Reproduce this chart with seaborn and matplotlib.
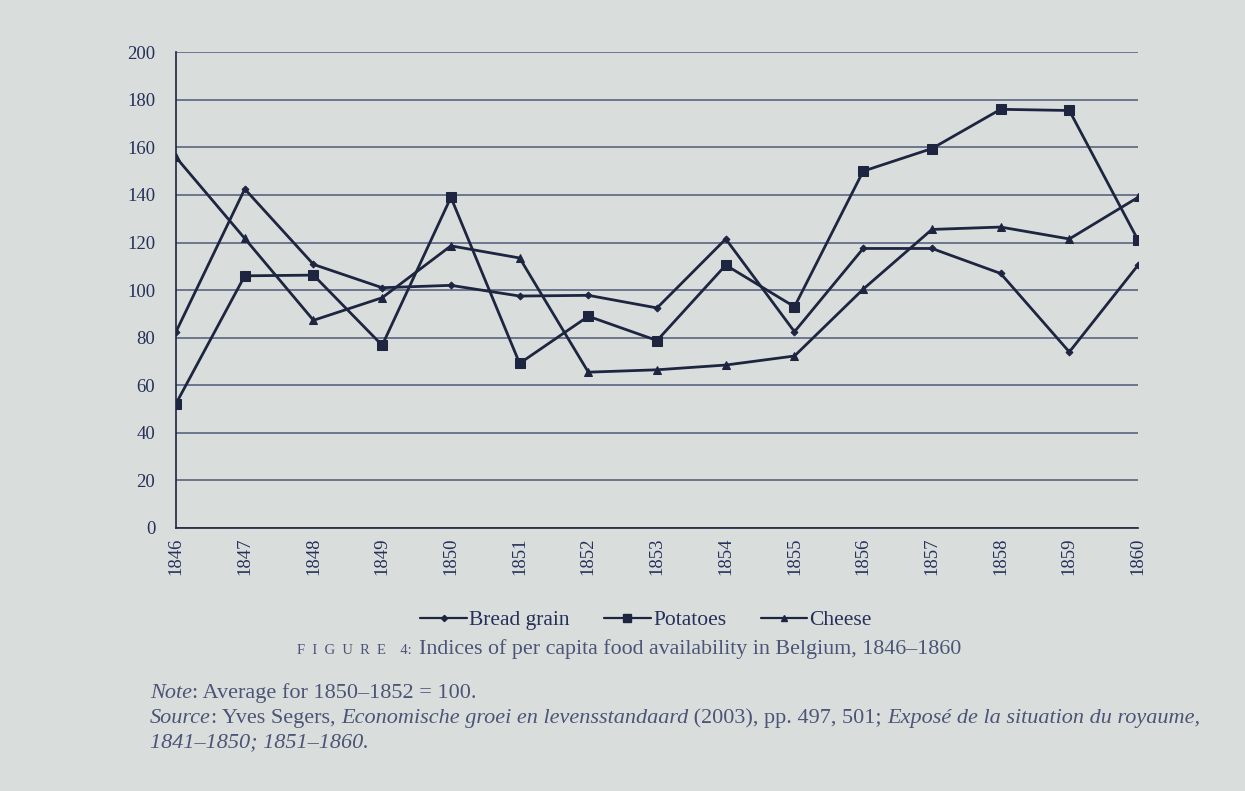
import matplotlib
matplotlib.use("Agg")

import matplotlib.pyplot as plt
import seaborn as sns
import pandas as pd
from matplotlib.lines import Line2D

# Werte
years = list(range(1846, 1861))

bread_grain = [82.5, 142.5, 110.8, 101, 102, 97.5, 97.8, 92.5, 121.5, 82.5, 117.5, 117.5, 107, 74, 110.5]
potatoes = [52.3, 106, 106.3, 76.8, 139, 69.2, 89, 78.8, 110.5, 93, 150, 159.5, 176, 175.5, 121]
cheese = [155.8, 121.7, 87.3, 96.8, 118.6, 113.5, 65.5, 66.5, 68.5, 72.3, 100.4, 125.5, 126.5, 121.5, 139]

series_names = ["Bread grain", "Potatoes", "Cheese"]
y_ticks = list(range(0, 201, 20))

df = pd.DataFrame({
    "year": years * 3,
    "value": bread_grain + potatoes + cheese,
    "series": [s for s in series_names for _ in years],
})

BG = "#d9dedc"
INK = "#1e2540"
TXT = "#26305a"
NOTE = "#4c5577"
GRID = "#505a78"

sns.set_theme(style="white")
plt.rcParams["font.family"] = ["Liberation Serif", "DejaVu Serif"]

fig = plt.figure(figsize=(12.45, 7.91), dpi=100, facecolor=BG)
ax = fig.add_axes([0.1414, 0.3325, 0.9141 - 0.1414, 0.934 - 0.3325])
ax.set_facecolor(BG)

markers = {"Bread grain": "D", "Potatoes": "s", "Cheese": "^"}
sizes = {"Bread grain": 3.5, "Potatoes": 6.5, "Cheese": 5.5}

for name in series_names:
    sns.lineplot(
        data=df[df["series"] == name],
        x="year",
        y="value",
        ax=ax,
        color=INK,
        linewidth=2,
        marker=markers[name],
        markersize=sizes[name],
        markeredgecolor=INK,
        markerfacecolor=INK,
        legend=False,
    )

ax.set_xlim(1846, 1860)
ax.set_ylim(0, 200)
ax.set_yticks(y_ticks)
ax.set_xticks(years)
ax.set_xticklabels([str(y) for y in years], rotation=90, fontsize=13.5, color=TXT)
ax.set_yticklabels([str(v) for v in y_ticks], fontsize=13.5, color=TXT)
ax.set_xlabel("")
ax.set_ylabel("")

# Gitterlinien
ax.yaxis.grid(True, color=GRID, linewidth=1.1)
ax.xaxis.grid(False)
ax.set_axisbelow(True)

for side in ["top", "right"]:
    ax.spines[side].set_visible(False)
for side in ["left", "bottom"]:
    ax.spines[side].set_color(INK)
    ax.spines[side].set_linewidth(1.2)

ax.tick_params(axis="both", which="major", direction="out", length=6,
               width=1.1, color=INK)
ax.tick_params(axis="y", pad=9)
ax.tick_params(axis="x", pad=1)

# Legende
handles = [
    Line2D([0], [0], color=INK, linewidth=1.6, marker=markers[n],
           markersize=sizes[n] * 0.9, markerfacecolor=INK, markeredgecolor=INK)
    for n in series_names
]
fig.legend(
    handles, series_names,
    loc="center", bbox_to_anchor=(0.519, 1 - 620 / 791),
    ncol=3, frameon=False, fontsize=15.5, handlelength=2.15,
    handletextpad=0.12, columnspacing=1.6, labelcolor=TXT,
)

renderer = fig.canvas.get_renderer()
W = fig.get_figwidth() * fig.dpi


def text_run(pieces, y, x_left=None, x_center=None):
    # Textteile nebeneinander setzen (fuer Kursiv-Wechsel)
    objs = []
    for s, kw in pieces:
        objs.append(fig.text(0, y, s, va="baseline", ha="left", **kw))
    widths = [o.get_window_extent(renderer).width for o in objs]
    total = sum(widths)
    x = x_left if x_left is not None else x_center - total / 2
    for o, w in zip(objs, widths):
        o.set_x(x / W)
        x += w


cap_y = 1 - 654 / 791
text_run([
    ("F  I  G  U  R  E    4:  ", dict(fontsize=10.5, color=NOTE)),
    ("Indices of per capita food availability in Belgium, 1846–1860",
     dict(fontsize=15.8, color=NOTE)),
], cap_y, x_center=629)

FS = 16
text_run([
    ("Note", dict(fontsize=FS, color=NOTE, style="italic")),
    (": Average for 1850–1852 = 100.", dict(fontsize=FS, color=NOTE)),
], 1 - 698 / 791, x_left=150)

text_run([
    ("Source", dict(fontsize=FS, color=NOTE, style="italic")),
    (": Yves Segers, ", dict(fontsize=FS, color=NOTE)),
    ("Economische groei en levensstandaard", dict(fontsize=FS, color=NOTE, style="italic")),
    (" (2003), pp. 497, 501; ", dict(fontsize=FS, color=NOTE)),
    ("Exposé de la situation du royaume,", dict(fontsize=FS, color=NOTE, style="italic")),
], 1 - 723 / 791, x_left=150)

text_run([
    ("1841–1850; 1851–1860.", dict(fontsize=FS, color=NOTE, style="italic")),
], 1 - 747 / 791, x_left=150)

fig.savefig("out.png", dpi=100, facecolor=BG)
